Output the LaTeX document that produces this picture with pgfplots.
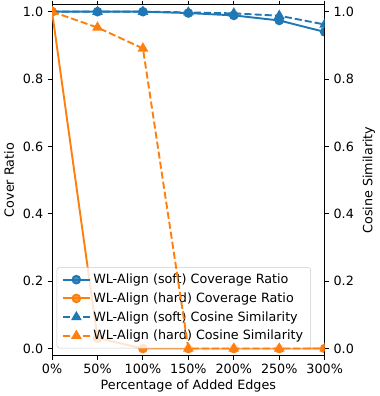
\documentclass[border=0pt]{standalone}
\usepackage{fontspec}
\setmainfont{DejaVu Sans}
\usepackage{pgfplots}
\pgfplotsset{compat=1.18}
\definecolor{c0}{HTML}{1F77B4}
\definecolor{c1}{HTML}{FF7F0E}

\pgfplotsset{
  base/.style={
    scale only axis, width=214pt, height=275pt,
    xmin=0, xmax=300, ymin=-0.02, ymax=1.02,
    xtick={0,50,...,300},
    xticklabels={0\%,50\%,100\%,150\%,200\%,250\%,300\%},
    ytick={0,0.2,...,1.0},
    yticklabel style={/pgf/number format/.cd, fixed, fixed zerofill, precision=1},
    /pgf/number format/assume math mode=true,
    tick align=outside, major tick length=3.5pt,
    every tick/.style={black, line width=0.8pt},
    axis line style={line width=0.8pt},
    tick label style={font=\normalsize},
    label style={font=\normalsize},
    clip marker paths=true,
  },
  sline/.style={line width=1.5pt, mark=*, mark size=3pt, mark options={solid}},
  dline/.style={line width=1.5pt, dash pattern=on 5.55pt off 2.4pt, mark=triangle*, mark size=3.4pt, mark options={solid}},
}

\begin{document}
\begin{tikzpicture}
% left axis: coverage ratio, holds the legend
\begin{axis}[base,
  axis y line*=left,
  xlabel={Percentage of Added Edges}, ylabel={Cover Ratio},
  xlabel style={yshift=2.5pt},
  legend cell align=left,
  legend image code/.code={
    \draw[mark repeat=2, mark phase=2, #1]
      plot coordinates {(0pt,0pt) (10.5pt,0pt) (21pt,0pt)};
  },
  legend style={at={(0.017,0.02)}, anchor=south west, font=\normalsize,
    fill=white, fill opacity=0.8, text opacity=1, draw=black!20,
    rounded corners=2pt, row sep=1.6pt, inner xsep=4pt, inner ysep=3pt},
]
\addplot[sline, c0] coordinates {
  (0,1.0) (50,1.0) (100,1.0) (150,0.996) (200,0.989) (250,0.974) (300,0.94)
};
\addlegendentry{WL-Align (soft) Coverage Ratio}
\addplot[sline, c1] coordinates {
  (0,1.0) (50,0.031) (100,0.0) (150,0.0) (200,0.0) (250,0.0) (300,0.0)
};
\addlegendentry{WL-Align (hard) Coverage Ratio}
\addlegendimage{dline, c0}
\addlegendentry{WL-Align (soft) Cosine Similarity}
\addlegendimage{dline, c1}
\addlegendentry{WL-Align (hard) Cosine Similarity}
\end{axis}
% right axis: cosine similarity, drawn over the legend
\begin{axis}[base,
  axis y line*=right, axis x line=none,
  ylabel={Cosine Similarity},
]
\addplot[dline, c0] coordinates {
  (0,1.0) (50,1.0) (100,1.0) (150,0.998) (200,0.995) (250,0.988) (300,0.962)
};
\addplot[dline, c1] coordinates {
  (0,1.0) (50,0.953) (100,0.891) (150,0.0) (200,0.0) (250,0.0) (300,0.0)
};
\end{axis}
\end{tikzpicture}
\end{document}
